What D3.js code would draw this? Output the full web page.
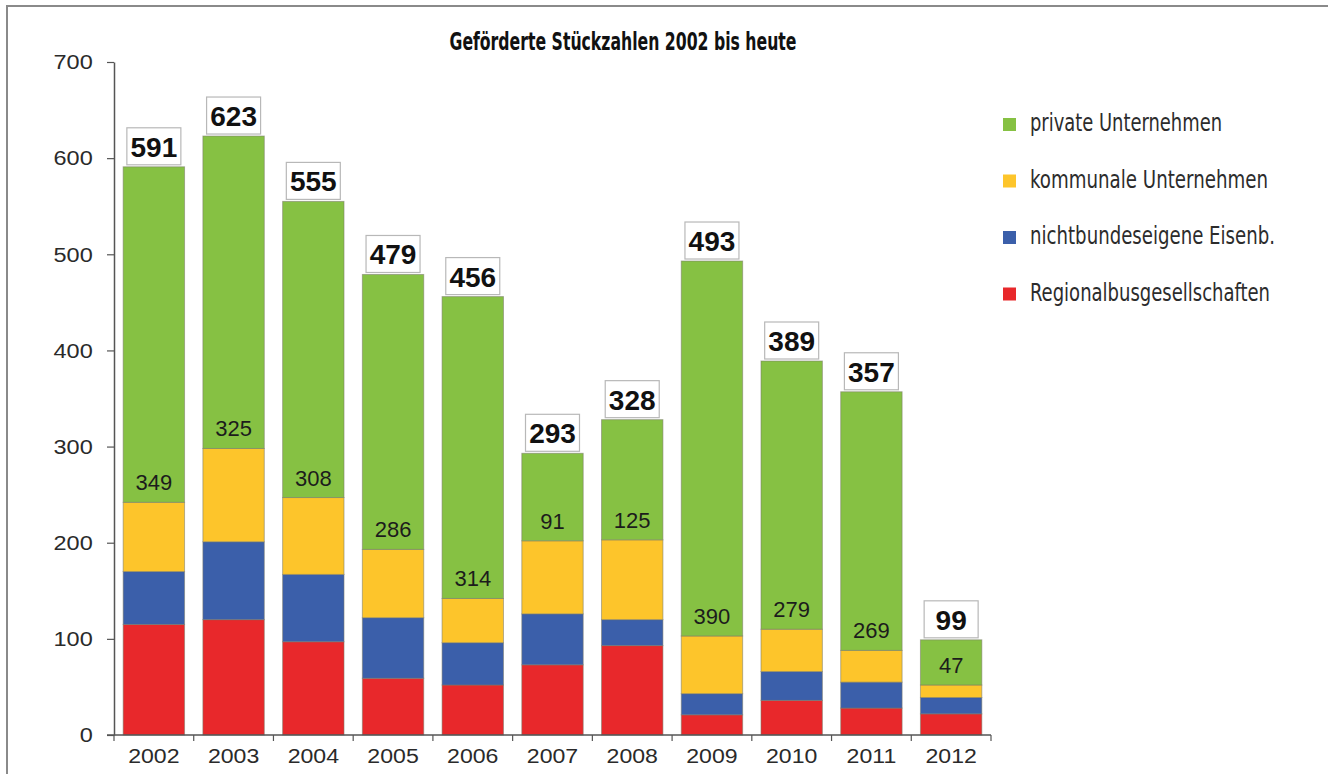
<!DOCTYPE html>
<html>
<head>
<meta charset="utf-8">
<script src="https://cdn.jsdelivr.net/npm/d3@7"></script>
<style>
  html, body { margin: 0; padding: 0; background: #fff; }
  svg { display: block; }
</style>
</head>
<body>
<svg id="chart" width="1328" height="774"></svg>
<script>
// Geförderte Stückzahlen je Jahr, nach Empfängergruppe
const years = ["2002","2003","2004","2005","2006","2007","2008","2009","2010","2011","2012"];
const regionalbus = [115, 120, 97, 59, 52, 73, 93, 21, 36, 28, 22];
const nichtbundeseigene = [55, 81, 70, 63, 44, 53, 27, 22, 30, 27, 17];
const kommunale = [72, 97, 80, 71, 46, 76, 83, 60, 44, 33, 13];
const private_ = [349, 325, 308, 286, 314, 91, 125, 390, 279, 269, 47];
const yTicks = [0, 100, 200, 300, 400, 500, 600, 700];

const seriesKeys = ["regional", "nichtbund", "kommunal", "privat"];
const seriesNames = {
  privat: "private Unternehmen",
  kommunal: "kommunale Unternehmen",
  nichtbund: "nichtbundeseigene Eisenb.",
  regional: "Regionalbusgesellschaften"
};
const colors = {
  regional: "#e8282b",
  nichtbund: "#3b5faa",
  kommunal: "#fdc52b",
  privat: "#86c143"
};

const rows = years.map((yr, i) => ({
  year: yr,
  regional: regionalbus[i],
  nichtbund: nichtbundeseigene[i],
  kommunal: kommunale[i],
  privat: private_[i]
}));

const svg = d3.select("#chart");
const tickFont = "'Liberation Sans', Arial, sans-serif";
const narrowFont = "'Liberation Sans Narrow', 'DejaVu Sans Condensed', 'DejaVu Sans', sans-serif";

// frame
svg.append("path")
  .attr("d", "M7,774V6H1328")
  .attr("fill", "none")
  .attr("stroke", "#8a8a8a")
  .attr("stroke-width", 2);

const plot = { left: 114, right: 991, top: 62, bottom: 735 };

const x = d3.scaleBand()
  .domain(years)
  .range([plot.left, plot.right])
  .paddingInner(0.23)
  .paddingOuter(0.115);

const y = d3.scaleLinear()
  .domain([0, 700])
  .range([plot.bottom, plot.top]);

const stack = d3.stack().keys(seriesKeys);
const layers = stack(rows);

// stacked bars
const g = svg.append("g");
g.selectAll("g.layer")
  .data(layers)
  .join("g")
  .attr("class", "layer")
  .attr("fill", d => colors[d.key])
  .selectAll("rect")
  .data(d => d)
  .join("rect")
  .attr("x", d => x(d.data.year))
  .attr("y", d => y(d[1]))
  .attr("width", x.bandwidth())
  .attr("height", d => y(d[0]) - y(d[1]))
  .attr("stroke", "#7a7a6a")
  .attr("stroke-opacity", 0.55)
  .attr("stroke-width", 1);

// y axis
const yAxis = svg.append("g")
  .attr("transform", `translate(${plot.left},0)`)
  .call(d3.axisLeft(y).tickValues(yTicks).tickSize(7).tickSizeOuter(0).tickPadding(12));
yAxis.select(".domain").attr("stroke", "#555").attr("stroke-width", 1.5);
yAxis.selectAll(".tick line").attr("stroke", "#555").attr("stroke-width", 1.2);
yAxis.selectAll("text")
  .attr("font-family", tickFont)
  .attr("font-size", 21)
  .attr("fill", "#2a2a2a")
  .attr("transform", "scale(1.12,1)");

// x axis
const xAxis = svg.append("g")
  .attr("transform", `translate(0,${plot.bottom})`)
  .call(d3.axisBottom(x).tickSize(0).tickSizeOuter(0).tickPadding(13));
xAxis.select(".domain")
  .attr("d", `M${plot.left - 7},0H${plot.right}`)
  .attr("stroke", "#555").attr("stroke-width", 1.5);
xAxis.selectAll("text")
  .attr("font-family", tickFont)
  .attr("font-size", 21)
  .attr("fill", "#2a2a2a")
  .attr("transform", "scale(1.1,1)");
// category boundary ticks
const boundaries = d3.range(years.length + 1).map(k => x.range()[0] + k * x.step());
xAxis.selectAll("line.boundary")
  .data(boundaries)
  .join("line")
  .attr("class", "boundary")
  .attr("x1", d => d).attr("x2", d => d)
  .attr("y1", 0).attr("y2", 6)
  .attr("stroke", "#555").attr("stroke-width", 1.2);

// values of the private segment, placed at the segment base
const privLayer = layers.find(l => l.key === "privat");
svg.append("g").selectAll("text")
  .data(privLayer)
  .join("text")
  .attr("x", d => x(d.data.year) + x.bandwidth() / 2)
  .attr("y", d => y(d[0]) - 12)
  .attr("text-anchor", "middle")
  .attr("font-family", tickFont)
  .attr("font-size", 22)
  .attr("fill", "#1c1c1c")
  .text(d => d.data.privat);

// totals in boxes above each bar
const totals = privLayer.map(d => ({ year: d.data.year, total: d[1] }));
const boxW = 54, boxH = 37;
const tg = svg.append("g").selectAll("g")
  .data(totals)
  .join("g")
  .attr("transform", d => `translate(${x(d.year) + x.bandwidth() / 2},${y(d.total) - 2})`);
tg.append("rect")
  .attr("x", -boxW / 2)
  .attr("y", -boxH)
  .attr("width", boxW)
  .attr("height", boxH)
  .attr("fill", "#fff")
  .attr("stroke", "#b8b8b8")
  .attr("stroke-width", 1.2);
tg.append("text")
  .attr("y", -8)
  .attr("text-anchor", "middle")
  .attr("font-family", tickFont)
  .attr("font-weight", "bold")
  .attr("font-size", 28)
  .attr("fill", "#111")
  .text(d => d.total);

// title
svg.append("text")
  .attr("x", 623)
  .attr("y", 50)
  .attr("text-anchor", "middle")
  .attr("font-family", narrowFont)
  .attr("font-weight", "bold")
  .attr("font-size", 24)
  .attr("fill", "#111")
  .attr("textLength", 347)
  .attr("lengthAdjust", "spacingAndGlyphs")
  .text("Geförderte Stückzahlen 2002 bis heute");

// legend
const legendKeys = ["privat", "kommunal", "nichtbund", "regional"];
const legendWidths = { privat: 192, kommunal: 238, nichtbund: 245, regional: 240 };
const lg = svg.append("g").selectAll("g")
  .data(legendKeys)
  .join("g")
  .attr("transform", (d, i) => `translate(1003,${125 + i * 56.5})`);
lg.append("rect")
  .attr("x", 0).attr("y", -7)
  .attr("width", 13).attr("height", 13)
  .attr("fill", d => colors[d]);
lg.append("text")
  .attr("x", 27)
  .attr("y", 6)
  .attr("font-family", narrowFont)
  .attr("font-size", 24)
  .attr("fill", "#2c2c2c")
  .attr("textLength", d => legendWidths[d])
  .attr("lengthAdjust", "spacingAndGlyphs")
  .text(d => seriesNames[d]);
</script>
</body>
</html>
